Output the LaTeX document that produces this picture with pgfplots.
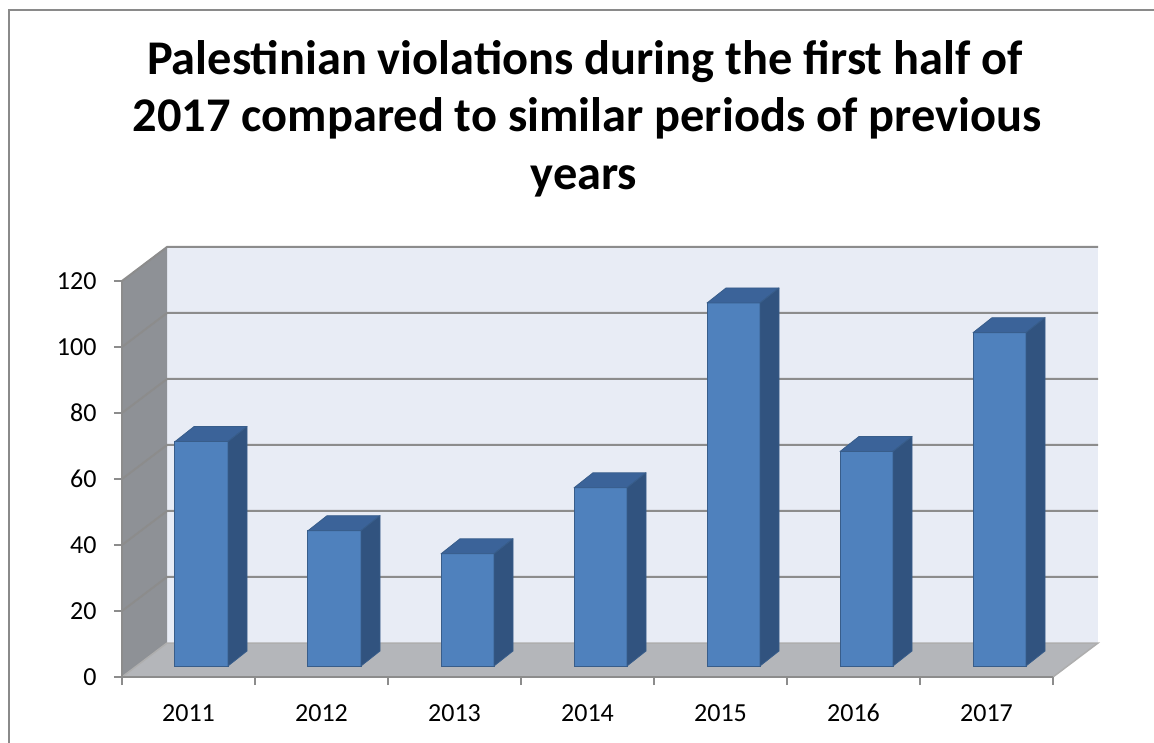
\documentclass[border=0pt]{standalone}
\usepackage{pgfplots}
\pgfplotsset{compat=1.18}
\usepackage{fontspec}
\setmainfont{Carlito}
\definecolor{barfront}{HTML}{4F81BD}
\definecolor{bartop}{HTML}{3B6399}
\definecolor{barside}{HTML}{31537F}
\definecolor{baredge}{HTML}{385D8A}
\definecolor{backwall}{HTML}{E8ECF5}
\definecolor{floorc}{HTML}{B4B6BA}
\definecolor{leftwall}{HTML}{8E9196}
\definecolor{gridc}{HTML}{8C8C8C}
\definecolor{axisc}{HTML}{8C8C8C}
\definecolor{bordc}{HTML}{8A8A8A}
\begin{document}
\begin{tikzpicture}
\useasboundingbox (0,0) rectangle (1154pt,742pt);
\fill[white] (0,0) rectangle (1154pt,742pt);
\draw[bordc, line width=2pt] (9pt,-20pt) -- (9pt,732pt) -- (1180pt,732pt);
\node[anchor=base, inner sep=0pt, font=\fontsize{48.4}{58}\selectfont\bfseries] at (585pt,667pt) {Palestinian violations during the first half of};
\node[anchor=base, inner sep=0pt, font=\fontsize{48.4}{58}\selectfont\bfseries] at (587pt,610pt) {2017 compared to similar periods of previous};
\node[anchor=base, inner sep=0pt, font=\fontsize{48.4}{58}\selectfont\bfseries] at (584pt,552pt) {years};
\begin{axis}[
  at={(122pt,65pt)}, anchor=south west,
  scale only axis, width=931pt, height=396pt,
  xmin=-0.5, xmax=6.5, ymin=0, ymax=120,
  clip=false, axis on top,
  axis x line*=bottom, axis y line*=left,
  axis line style={draw=axisc, line width=2pt, -},
  ytick={0,20,...,120},
  xtick={0,...,6}, xticklabels={2011,2012,2013,2014,2015,2016,2017},
  minor xtick={-0.5,0.5,...,6.5},
  tick align=outside,
  major tick length=8pt, minor tick length=8pt,
  tick style={draw=axisc, line width=2pt},
  major x tick style={draw=none},
  ticklabel style={font=\fontsize{26}{31}\selectfont},
  /pgf/number format/assume math mode=true,
  xticklabel style={anchor=base, yshift=-36pt},
  yticklabel style={anchor=east, xshift=-14pt},
]
% walls
\fill[backwall] ([shift={(45pt,34pt)}]axis cs:-0.5,0) rectangle ([shift={(45pt,34pt)}]axis cs:6.5,120);
\fill[leftwall] (axis cs:-0.5,0) -- ([shift={(45pt,34pt)}]axis cs:-0.5,0) -- ([shift={(45pt,34pt)}]axis cs:-0.5,120) -- (axis cs:-0.5,120) -- cycle;
\fill[floorc] (axis cs:-0.5,0) -- (axis cs:6.5,0) -- ([shift={(45pt,34pt)}]axis cs:6.5,0) -- ([shift={(45pt,34pt)}]axis cs:-0.5,0) -- cycle;
\pgfplotsinvokeforeach{20,40,60,80,100,120}{
  \draw[gridc, line width=2pt] (axis cs:-0.5,#1) -- ([shift={(45pt,34pt)}]axis cs:-0.5,#1) -- ([shift={(45pt,34pt)}]axis cs:6.5,#1);
}
\draw[gridc!70, line width=1.5pt] (axis cs:-0.5,0) -- ([shift={(45pt,34pt)}]axis cs:-0.5,0) -- ([shift={(45pt,34pt)}]axis cs:6.5,0) -- (axis cs:6.5,0);
% bars: front faces
\addplot[ybar, bar width=53pt, bar shift=13pt, yshift=11pt, fill=barfront, draw=baredge, line width=1pt]
  coordinates {(0,68) (1,41) (2,34) (3,54) (4,110) (5,65) (6,101)};
% bars: top and side faces
\addplot[scatter, only marks, mark=*, mark size=0.01pt,
  visualization depends on={rawy \as \rawy},
  scatter/@pre marker code/.code={%
    \pgfmathsetmacro{\barH}{\rawy*3.3}%
    \filldraw[fill=bartop, draw=baredge, line width=0.8pt, line join=round] (-13.5pt,11pt) -- (39.5pt,11pt) -- (58.5pt,26pt) -- (5.5pt,26pt) -- cycle;
    \filldraw[fill=barside, draw=baredge, line width=0.8pt, line join=round] (39.5pt,11pt) -- (58.5pt,26pt) -- (58.5pt,26pt-\barH pt) -- (39.5pt,11pt-\barH pt) -- cycle;
    \begin{scope}[opacity=0]},
  scatter/@post marker code/.code={\end{scope}},
] coordinates {(0,68) (1,41) (2,34) (3,54) (4,110) (5,65) (6,101)};
\end{axis}
\end{tikzpicture}
\end{document}
